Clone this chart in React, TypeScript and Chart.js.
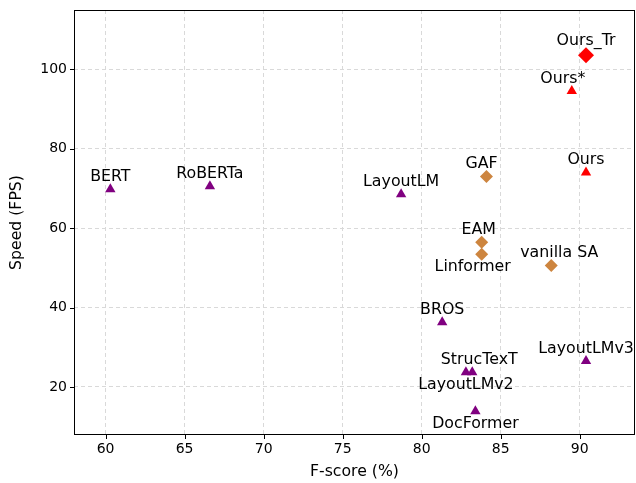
import React, { useEffect, useRef } from "react";
import { Chart, registerables } from "chart.js";
Chart.register(...registerables);

const names = ["BERT", "RoBERTa", "LayoutLM", "BROS", "StrucTexT", "LayoutLMv2", "DocFormer", "LayoutLMv3", "GAF", "EAM", "Linformer", "vanilla SA", "Ours", "Ours*", "Ours_Tr"];
const fscores = [60.3, 66.6, 78.7, 81.3, 83.2, 82.8, 83.4, 90.4, 84.1, 83.8, 83.8, 88.2, 90.4, 89.5, 90.4];
const speeds = [69.8, 70.5, 68.5, 36.3, 23.7, 23.7, 13.9, 26.5, 73.0, 56.4, 53.4, 50.6, 74.0, 94.5, 103.5];
const groups = ["base", "base", "base", "base", "base", "base", "base", "base", "attn", "attn", "attn", "attn", "ours", "ours", "oursTr"];
const labelBelow = ["LayoutLMv2", "DocFormer", "Linformer"];
const labelDx: Record<string, number> = { Linformer: -9, "Ours*": -9, "vanilla SA": 8, EAM: -3, GAF: -5, StrucTexT: 7 };
const xTicks = [60, 65, 70, 75, 80, 85, 90];
const yTicks = [20, 40, 60, 80, 100];

const groupStyle: Record<string, any> = {
  base: { color: "#800080", pointStyle: "triangle", radius: 6 },
  attn: { color: "#CD853F", pointStyle: "rectRot", radius: 6.5 },
  ours: { color: "#FF0000", pointStyle: "triangle", radius: 6 },
  oursTr: { color: "#FF0000", pointStyle: "rectRot", radius: 8 },
};

const FONT = "'DejaVu Sans', sans-serif";

export default function App() {
  const ref = useRef<HTMLCanvasElement>(null);
  useEffect(() => {
    document.body.style.margin = "0";
    document.body.style.overflow = "hidden";
    const keys = ["base", "attn", "ours", "oursTr"];
    const datasets = keys.map((k) => {
      const pts: any[] = [];
      names.forEach((n, i) => {
        if (groups[i] === k) pts.push({ x: fscores[i], y: speeds[i], name: n });
      });
      const s = groupStyle[k];
      return {
        label: k,
        data: pts,
        pointStyle: s.pointStyle,
        pointRadius: s.radius,
        pointBackgroundColor: s.color,
        pointBorderColor: s.color,
        pointBorderWidth: 0,
        showLine: false,
        clip: false,
      };
    });
    const labelPlugin = {
      id: "labels",
      afterDatasetsDraw(chart: any) {
        const ctx = chart.ctx;
        const { left, right, top, bottom } = chart.chartArea;
        ctx.save();
        ctx.strokeStyle = "#000";
        ctx.lineWidth = 1;
        ctx.strokeRect(left + 0.5, top + 0.5, right - left - 1, bottom - top - 1);
        const xs = chart.scales.x, ys = chart.scales.y;
        ctx.beginPath();
        xTicks.forEach((t) => {
          const px = Math.round(xs.getPixelForValue(t)) + 0.5;
          ctx.moveTo(px, bottom);
          ctx.lineTo(px, bottom + 4);
        });
        yTicks.forEach((t) => {
          const py = Math.round(ys.getPixelForValue(t)) + 0.5;
          ctx.moveTo(left, py);
          ctx.lineTo(left - 4, py);
        });
        ctx.stroke();
        ctx.fillStyle = "#000";
        ctx.font = "15.8px " + FONT;
        ctx.textAlign = "center";
        ctx.textBaseline = "alphabetic";
        names.forEach((n, i) => {
          const px = xs.getPixelForValue(fscores[i]) + (labelDx[n] || 0);
          const py = ys.getPixelForValue(speeds[i]);
          if (labelBelow.includes(n)) {
            ctx.fillText(n, px, py + 17);
          } else {
            ctx.fillText(n, px, py - (n === "Ours_Tr" ? 10 : 8));
          }
        });
        ctx.restore();
      },
    };
    const zeroPad = (s: any) => {
      s.paddingLeft = 0; s.paddingRight = 0; s.paddingTop = 0; s.paddingBottom = 0;
    };
    const chart = new Chart(ref.current!, {
      type: "scatter",
      data: { datasets },
      plugins: [labelPlugin],
      options: {
        animation: false,
        responsive: false,
        layout: { autoPadding: false, padding: { top: 10, right: 1, left: 0, bottom: 0 } },
        plugins: { legend: { display: false }, tooltip: { enabled: false } },
        scales: {
          x: {
            type: "linear",
            min: 58,
            max: 93.5,
            afterBuildTicks: (s: any) => { s.ticks = xTicks.map((v) => ({ value: v })); },
            afterFit: (s: any) => { s.height = 48; zeroPad(s); },
            ticks: { color: "#000", font: { family: FONT, size: 14 }, padding: 6, maxRotation: 0 },
            grid: { color: "#d9d9d9", tickLength: 0, drawTicks: false },
            border: { display: false, dash: [4, 3] },
            title: { display: true, text: "F-score (%)", color: "#000", font: { family: FONT, size: 15.7 }, padding: { top: 0, bottom: 2 } },
          },
          y: {
            type: "linear",
            min: 7.9,
            max: 114.9,
            afterBuildTicks: (s: any) => { s.ticks = yTicks.map((v) => ({ value: v })); },
            afterFit: (s: any) => { s.width = 74; zeroPad(s); },
            ticks: { color: "#000", font: { family: FONT, size: 14 }, padding: 7 },
            grid: { color: "#d9d9d9", tickLength: 0, drawTicks: false },
            border: { display: false, dash: [4, 3] },
            title: { display: true, text: "Speed (FPS)", color: "#000", font: { family: FONT, size: 15.7 }, padding: { top: 8, bottom: 0 } },
          },
        },
      },
    });
    return () => chart.destroy();
  }, []);
  return (
    <div style={{ width: 636, height: 483, overflow: "hidden" }}>
      <canvas ref={ref} width={636} height={483} style={{ display: "block", width: 636, height: 483 }} />
    </div>
  );
}
